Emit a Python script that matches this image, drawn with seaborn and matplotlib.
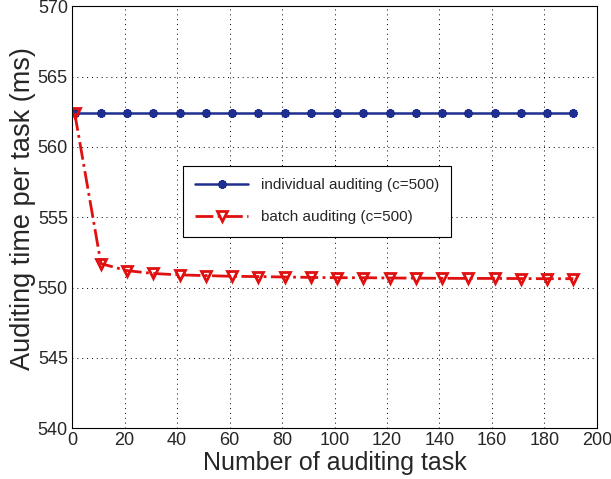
import numpy as np
import pandas as pd
import seaborn as sns
import matplotlib.pyplot as plt

tasks = [1, 11, 21, 31, 41, 51, 61, 71, 81, 91, 101, 111, 121, 131, 141, 151, 161, 171, 181, 191]
individual = [562.4] * 20
batch = [562.4, 551.7, 551.2, 551.0, 550.9, 550.85, 550.8, 550.78, 550.75, 550.72,
          550.7, 550.7, 550.68, 550.67, 550.66, 550.65, 550.65, 550.64, 550.63, 550.63]

df = pd.DataFrame({"task": tasks, "individual": individual, "batch": batch})

sns.set_style("white")
plt.rcParams["font.family"] = ["Liberation Sans", "DejaVu Sans"]

fig = plt.figure(figsize=(6.11, 4.79), dpi=100)
ax = fig.add_axes([0.118, 0.106, 0.859, 0.881])

sns.lineplot(data=df, x="task", y="individual", ax=ax, color="#1f2f8f", lw=1.8,
             marker=(6, 2, 0), markersize=6, mew=2.5, mec="#1f2f8f",
             label="individual auditing (c=500)")
sns.lineplot(data=df, x="task", y="batch", ax=ax, color="#e01010", lw=2,
             linestyle="-.", marker="v", markersize=7, mfc="none", mew=2, mec="#e01010",
             label="batch auditing (c=500)")

ax.set_xlim(0, 200)
ax.set_ylim(540, 570)
ax.set_xticks(range(0, 201, 20))
ax.set_yticks(range(540, 571, 5))
ax.grid(True, color="black", linestyle=(0, (1, 4)), lw=0.7)
for s in ax.spines.values():
    s.set_color("black")
    s.set_linewidth(0.8)
ax.tick_params(direction="in", labelsize=13, length=4, color="black", pad=3)
ax.set_xlabel("Number of auditing task", fontsize=18, labelpad=1)
ax.set_ylabel("Auditing time per task (ms)", fontsize=19.5)
ax.yaxis.set_label_coords(-0.068, 0.52)

leg = ax.legend(loc="upper left", bbox_to_anchor=(0.196, 0.64), frameon=True, fancybox=False,
                edgecolor="black", fontsize=11, handlelength=3.5, borderpad=0.8,
                labelspacing=1.2, framealpha=1)
leg.get_frame().set_linewidth(0.8)

fig.savefig("out.png", dpi=100)
